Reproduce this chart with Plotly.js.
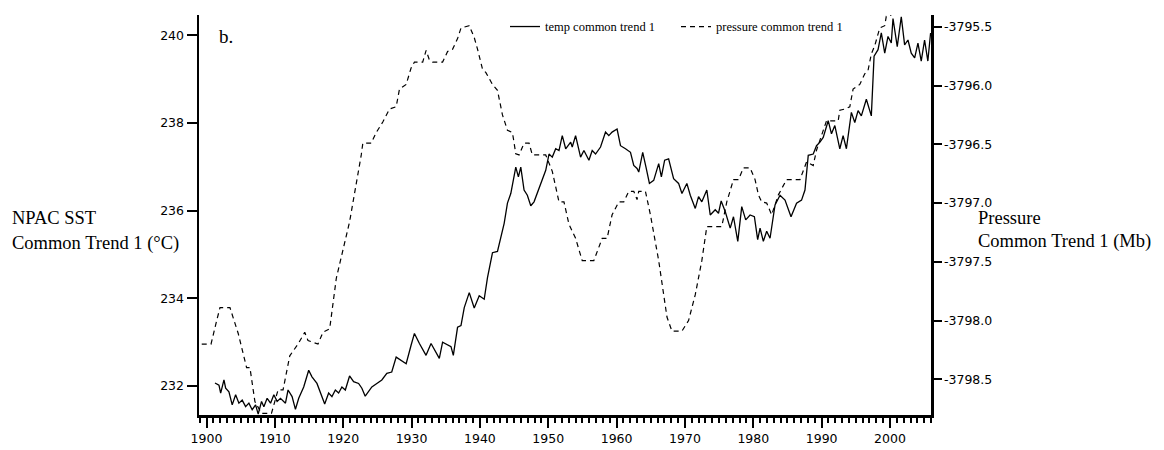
<!DOCTYPE html>
<html>
<head>
<meta charset="utf-8">
<script src="https://cdn.plot.ly/plotly-3.0.1.min.js"></script>
<style>html,body{margin:0;padding:0;background:#fff;}#chart{width:1164px;height:450px;}</style>
</head>
<body>
<div id="chart"></div>
<script>
// ---- Data ----
const tempYears = [1901.24,1901.82,1902.07,1902.55,1902.80,1903.28,1903.76,1904.26,1904.74,1905.22,1905.72,1906.20,1906.68,1907.18,1907.56,1908.05,1908.39,1908.87,1909.37,1909.85,1910.33,1910.82,1911.55,1911.93,1912.52,1913.01,1913.49,1914.22,1914.95,1915.43,1916.16,1916.66,1917.29,1917.87,1918.35,1918.85,1919.33,1919.81,1920.31,1920.93,1921.52,1922.25,1922.73,1923.22,1923.71,1924.19,1924.92,1925.65,1926.38,1927.10,1927.75,1928.48,1929.21,1929.93,1930.42,1931.15,1932.12,1932.85,1933.58,1934.06,1934.54,1935.27,1935.77,1936.11,1936.73,1937.23,1937.71,1938.44,1939.17,1939.90,1940.63,1941.11,1941.84,1942.57,1943.30,1943.55,1944.03,1944.52,1945.25,1945.63,1945.98,1946.46,1946.94,1947.44,1947.92,1948.40,1949.13,1949.63,1950.11,1950.59,1951.09,1951.57,1952.05,1952.55,1953.28,1953.51,1954.00,1954.73,1955.22,1955.95,1956.43,1956.92,1957.65,1958.38,1958.86,1959.34,1960.07,1960.57,1961.30,1962.03,1962.51,1962.99,1963.24,1963.82,1964.30,1964.80,1965.43,1966.16,1966.55,1967.03,1967.61,1968.34,1969.07,1969.56,1970.28,1970.78,1971.51,1971.99,1972.47,1973.20,1973.70,1974.43,1974.91,1975.30,1975.89,1976.62,1977.10,1977.73,1978.31,1978.89,1979.53,1980.16,1980.64,1980.99,1981.47,1981.96,1982.45,1983.18,1983.91,1984.64,1985.52,1986.33,1987.06,1987.56,1988.04,1988.77,1989.25,1989.75,1990.23,1990.96,1991.44,1991.93,1992.66,1993.14,1993.62,1994.35,1994.85,1995.33,1995.81,1996.54,1997.27,1997.67,1998.25,1998.73,1999.23,1999.71,2000.19,2000.44,2001.06,2001.65,2002.14,2002.63,2003.11,2003.61,2004.09,2004.57,2005.06,2005.54,2005.94];
const tempValues = [232.07,232.02,231.84,232.14,231.95,231.87,231.57,231.80,231.61,231.68,231.53,231.61,231.46,231.57,231.36,231.65,231.53,231.72,231.61,231.80,231.65,231.72,231.61,231.91,231.76,231.47,231.72,231.98,232.36,232.21,232.06,231.84,231.59,231.84,231.76,231.91,231.84,231.98,231.91,232.23,232.10,232.06,231.95,231.77,231.87,231.98,232.06,232.14,232.29,232.32,232.66,232.59,232.51,232.93,233.20,232.97,232.70,232.97,232.78,232.63,233.00,232.93,232.90,232.70,233.34,233.38,233.79,234.13,233.78,234.06,233.98,234.47,235.04,235.07,235.53,235.71,236.17,236.39,236.99,236.77,236.99,236.47,236.35,236.11,236.20,236.39,236.69,236.92,237.29,237.22,237.41,237.37,237.71,237.41,237.56,237.45,237.71,237.22,237.37,237.15,237.37,237.29,237.45,237.79,237.71,237.79,237.86,237.48,237.41,237.33,237.03,236.96,236.88,237.33,236.99,236.62,236.69,237.07,236.77,237.15,237.18,236.73,236.62,236.39,236.62,236.35,236.05,236.32,236.20,236.47,235.90,236.02,235.94,236.22,235.98,235.60,235.86,235.30,236.09,235.79,235.90,235.86,235.34,235.60,235.30,235.53,235.37,236.13,236.35,236.24,235.86,236.17,236.24,236.47,237.26,237.29,237.48,237.56,237.67,238.05,237.75,237.94,237.41,237.71,237.41,238.24,238.01,238.28,238.16,238.54,238.16,239.52,239.67,240.05,239.59,239.97,239.82,240.38,239.74,240.42,239.78,239.89,239.59,239.48,239.82,239.41,239.89,239.41,240.05];

const pressureYears = [1899.30,1900.66,1901.49,1901.97,1903.43,1904.64,1905.86,1906.35,1907.08,1908.05,1909.50,1910.47,1911.20,1912.18,1913.39,1914.37,1914.85,1916.31,1917.04,1918.02,1918.99,1920.93,1922.64,1922.87,1924.10,1924.83,1925.79,1926.77,1927.75,1928.23,1929.21,1929.93,1930.42,1931.63,1932.13,1932.60,1933.09,1934.54,1935.27,1936.00,1936.73,1937.23,1938.44,1939.17,1939.65,1940.38,1940.88,1941.84,1942.57,1943.30,1944.03,1944.76,1945.25,1945.73,1946.46,1947.19,1947.67,1949.63,1950.59,1951.57,1952.30,1953.03,1954.00,1954.97,1956.67,1957.89,1958.61,1959.34,1960.32,1961.05,1961.78,1962.51,1962.99,1963.24,1964.22,1964.95,1966.16,1967.37,1968.10,1969.56,1970.53,1971.51,1972.47,1973.20,1975.39,1976.12,1977.10,1977.83,1978.56,1979.53,1980.26,1980.75,1981.23,1981.96,1982.69,1983.67,1984.87,1986.83,1987.79,1988.77,1989.25,1989.75,1990.71,1992.42,1992.66,1993.39,1994.12,1994.60,1995.58,1996.31,1996.79,1997.27,1997.77,1998.50,1999.23,1999.46,2000.19];
const pressureValues = [-3798.20,-3798.20,-3798.00,-3797.89,-3797.89,-3798.11,-3798.40,-3798.40,-3798.69,-3798.79,-3798.79,-3798.59,-3798.59,-3798.30,-3798.20,-3798.10,-3798.17,-3798.20,-3798.10,-3798.07,-3797.64,-3797.16,-3796.59,-3796.49,-3796.49,-3796.40,-3796.31,-3796.20,-3796.18,-3796.03,-3795.99,-3795.85,-3795.80,-3795.80,-3795.70,-3795.78,-3795.80,-3795.80,-3795.71,-3795.69,-3795.60,-3795.51,-3795.49,-3795.59,-3795.69,-3795.86,-3795.89,-3795.99,-3796.04,-3796.25,-3796.38,-3796.40,-3796.58,-3796.59,-3796.49,-3796.49,-3796.59,-3796.59,-3796.73,-3796.99,-3796.99,-3797.18,-3797.30,-3797.49,-3797.49,-3797.30,-3797.30,-3797.10,-3796.99,-3796.99,-3796.90,-3796.90,-3796.97,-3796.90,-3796.90,-3797.10,-3797.49,-3797.97,-3798.09,-3798.09,-3798.00,-3797.78,-3797.49,-3797.20,-3797.20,-3796.99,-3796.80,-3796.80,-3796.70,-3796.70,-3796.80,-3796.93,-3796.99,-3797.00,-3797.10,-3796.93,-3796.80,-3796.80,-3796.65,-3796.68,-3796.55,-3796.47,-3796.30,-3796.30,-3796.21,-3796.20,-3796.18,-3796.03,-3795.99,-3795.90,-3795.87,-3795.73,-3795.66,-3795.51,-3795.49,-3795.41,-3795.40];

const seriesNames = ["temp common trend 1", "pressure common trend 1"];
const xTickVals = [1900,1910,1920,1930,1940,1950,1960,1970,1980,1990,2000];
const yTickVals = [232,234,236,238,240];
const y2TickVals = [-3798.5,-3798.0,-3797.5,-3797.0,-3796.5,-3796.0,-3795.5];
const y2TickText = ["-3798.5","-3798.0","-3797.5","-3797.0","-3796.5","-3796.0","-3795.5"];
const leftTitleLines = ["NPAC SST", "Common Trend 1 (°C)"];
const rightTitleLines = ["Pressure", "Common Trend 1 (Mb)"];
const panelLabel = "b.";

// ---- Chart ----
const serif = "Liberation Serif, Times New Roman, serif";
const sans = "DejaVu Sans, Verdana, sans-serif";

const traces = [
  {x: tempYears, y: tempValues, name: seriesNames[0], type: "scatter", mode: "lines",
   line: {color: "#000", width: 1.3}, yaxis: "y"},
  {x: pressureYears, y: pressureValues, name: seriesNames[1], type: "scatter", mode: "lines",
   line: {color: "#000", width: 1.2, dash: "5px,4px"}, yaxis: "y2"}
];

const L = 199, R = 233, T = 12, B = 35;
const W = 1164, H = 450;
const pw = W - L - R, ph = H - T - B;
const px = v => (v - L) / pw;
const py = v => 1 - (v - T) / ph;

const layout = {
  width: W, height: H,
  margin: {l: L, r: R, t: T, b: B, pad: 0},
  paper_bgcolor: "#fff", plot_bgcolor: "#fff",
  showlegend: true,
  legend: {orientation: "h", x: px(505), xanchor: "left", y: py(24), yanchor: "middle",
           font: {family: serif, size: 12.5, color: "#000"}, bgcolor: "rgba(0,0,0,0)",
           entrywidth: 126, entrywidthmode: "pixels",
           itemclick: false, tracegroupgap: 0},
  xaxis: {range: [1898.9, 2006], tickvals: xTickVals, showgrid: false, zeroline: false,
          showline: true, linecolor: "#000", linewidth: 2.5,
          ticks: "outside", ticklen: 10, tickwidth: 2, tickcolor: "#000",
          minor: {dtick: 1, ticks: "outside", ticklen: 5, tickwidth: 2, tickcolor: "#000", showgrid: false},
          tickfont: {family: sans, size: 12.5, color: "#000"}},
  yaxis: {range: [231.34, 240.46], tickvals: yTickVals, showgrid: false, zeroline: false,
          showline: true, linecolor: "#000", linewidth: 2.5,
          ticks: "outside", ticklen: 10, tickwidth: 2, tickcolor: "#000",
          tickfont: {family: sans, size: 12.5, color: "#000"}},
  yaxis2: {range: [-3798.804, -3795.399], overlaying: "y", side: "right",
           tickvals: y2TickVals, ticktext: y2TickText, showgrid: false, zeroline: false,
           showline: true, linecolor: "#000", linewidth: 2.5,
           ticks: "outside", ticklen: 8, tickwidth: 2, tickcolor: "#000",
           tickfont: {family: sans, size: 12.5, color: "#000"}},
  annotations: [
    {text: panelLabel, xref: "paper", yref: "paper", x: px(217), y: py(34), xanchor: "left", yanchor: "middle",
     showarrow: false, font: {family: serif, size: 19, color: "#000"}},
    {text: leftTitleLines[0], xref: "paper", yref: "paper", x: px(10), y: py(217), xanchor: "left", yanchor: "middle",
     showarrow: false, font: {family: serif, size: 18.5, color: "#000"}},
    {text: leftTitleLines[1], xref: "paper", yref: "paper", x: px(10), y: py(242), xanchor: "left", yanchor: "middle",
     showarrow: false, font: {family: serif, size: 18.5, color: "#000"}},
    {text: rightTitleLines[0], xref: "paper", yref: "paper", x: px(976), y: py(217), xanchor: "left", yanchor: "middle",
     showarrow: false, font: {family: serif, size: 18.5, color: "#000"}},
    {text: rightTitleLines[1], xref: "paper", yref: "paper", x: px(976), y: py(240), xanchor: "left", yanchor: "middle",
     showarrow: false, font: {family: serif, size: 18.5, color: "#000"}}
  ]
};

Plotly.newPlot("chart", traces, layout, {displayModeBar: false, staticPlot: true});
</script>
</body>
</html>
